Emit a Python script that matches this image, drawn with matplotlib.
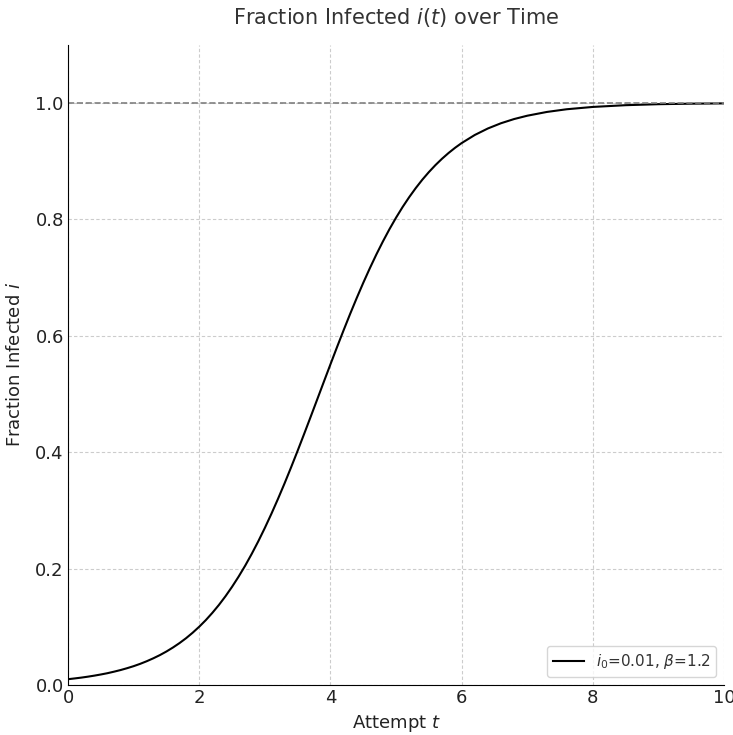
import matplotlib
matplotlib.use("Agg")
import matplotlib.pyplot as plt

# values
t = [0.0, 0.1, 0.2, 0.3, 0.4, 0.5, 0.6, 0.7, 0.8, 0.9,
     1.0, 1.1, 1.2, 1.3, 1.4, 1.5, 1.6, 1.7, 1.8, 1.9,
     2.0, 2.1, 2.2, 2.3, 2.4, 2.5, 2.6, 2.7, 2.8, 2.9,
     3.0, 3.1, 3.2, 3.3, 3.4, 3.5, 3.6, 3.7, 3.8, 3.9,
     4.0, 4.1, 4.2, 4.3, 4.4, 4.5, 4.6, 4.7, 4.8, 4.9,
     5.0, 5.1, 5.2, 5.3, 5.4, 5.5, 5.6, 5.7, 5.8, 5.9,
     6.0, 6.2, 6.4, 6.6, 6.8, 7.0, 7.3, 7.6, 8.0, 8.5,
     9.0, 9.5, 10.0]
frac = [0.0100, 0.0113, 0.0127, 0.0143, 0.0161, 0.0181, 0.0203, 0.0229, 0.0257, 0.0289,
        0.0324, 0.0364, 0.0409, 0.0459, 0.0514, 0.0576, 0.0645, 0.0721, 0.0805, 0.0899,
        0.1002, 0.1115, 0.1240, 0.1376, 0.1525, 0.1687, 0.1862, 0.2050, 0.2253, 0.2469,
        0.2699, 0.2942, 0.3197, 0.3463, 0.3740, 0.4025, 0.4317, 0.4613, 0.4912, 0.5212,
        0.5510, 0.5805, 0.6094, 0.6376, 0.6648, 0.6910, 0.7160, 0.7398, 0.7622, 0.7833,
        0.8030, 0.8213, 0.8382, 0.8538, 0.8682, 0.8813, 0.8933, 0.9042, 0.9141, 0.9231,
        0.9312, 0.9451, 0.9563, 0.9653, 0.9725, 0.9782, 0.9847, 0.9893, 0.9933, 0.9963,
        0.9980, 0.9989, 0.9994]
label = r"$i_0$=0.01, $\beta$=1.2"
x_ticks = [0, 2, 4, 6, 8, 10]
y_ticks = [0.0, 0.2, 0.4, 0.6, 0.8, 1.0]

fig = plt.figure(figsize=(7.33, 7.35), dpi=100)
ax = fig.add_axes([0.0928, 0.068, 0.895, 0.871])

ax.plot(t, frac, color="black", lw=1.5, label=label)
ax.axhline(1.0, color="gray", ls="--", lw=1.2)

ax.set_xlim(0, 10)
ax.set_ylim(0, 1.1)
ax.set_xticks(x_ticks)
ax.set_yticks(y_ticks)
ax.tick_params(length=0, labelsize=13, colors="#222222", pad=3)
ax.grid(True, ls=(0, (3, 2)), color="#cccccc", lw=0.8)
ax.spines["top"].set_visible(False)
ax.spines["right"].set_visible(False)

ax.set_title(r"Fraction Infected $i(t)$ over Time", fontsize=15, color="#333333", pad=15)
ax.set_xlabel(r"Attempt $t$", fontsize=13, color="#222222", labelpad=4)
ax.set_ylabel(r"Fraction Infected $i$", fontsize=13, color="#222222", labelpad=8)
ax.legend(loc="lower right", fontsize=11, labelcolor="#333333")

fig.savefig("out.png", dpi=100)
